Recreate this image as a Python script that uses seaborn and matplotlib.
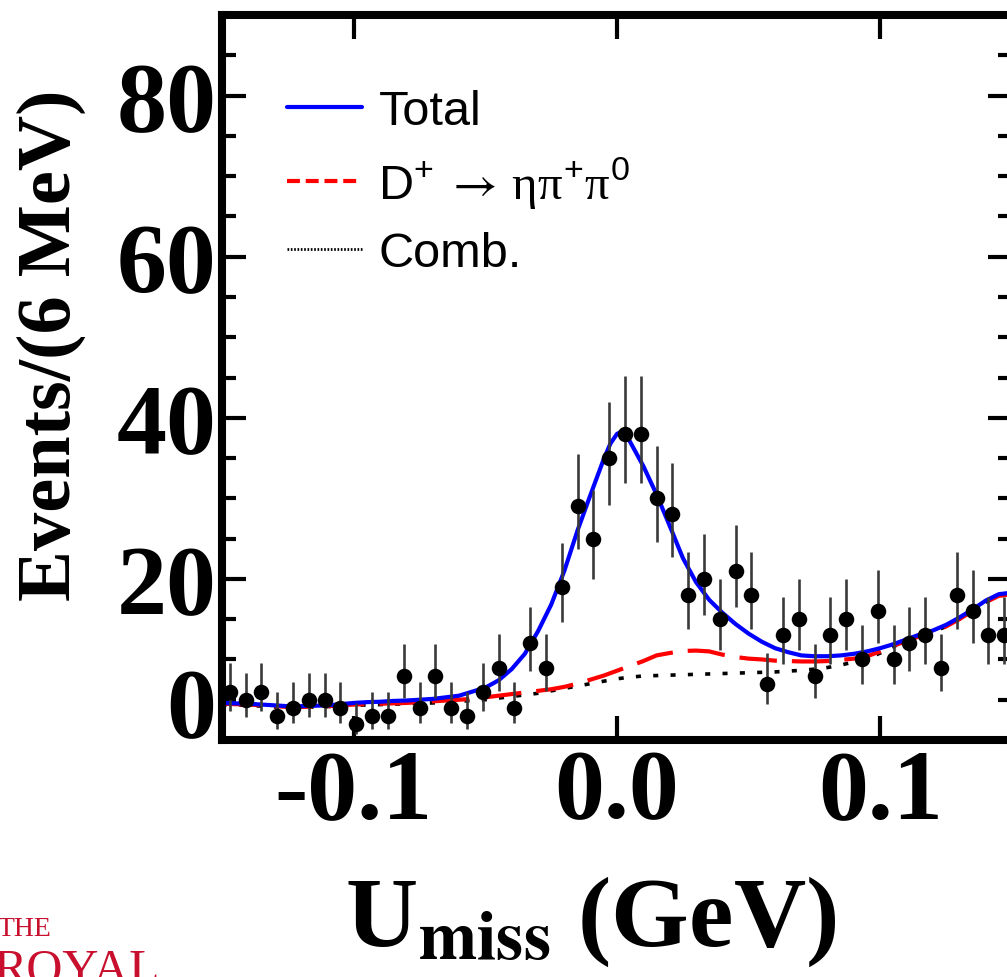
import numpy as np
import pandas as pd
import matplotlib
matplotlib.use("Agg")
import matplotlib.pyplot as plt
import seaborn as sns
from matplotlib.lines import Line2D
from matplotlib.ticker import MultipleLocator
from matplotlib.transforms import ScaledTranslation

# ---------------- data ----------------
bin_centers = [-0.147, -0.141, -0.135, -0.129, -0.123, -0.117, -0.111, -0.105, -0.099, -0.093,
               -0.087, -0.081, -0.075, -0.069, -0.063, -0.057, -0.051, -0.045, -0.039, -0.033,
               -0.027, -0.021, -0.015, -0.009, -0.003, 0.003, 0.009, 0.015, 0.021, 0.027,
               0.033, 0.039, 0.045, 0.051, 0.057, 0.063, 0.069, 0.075, 0.081, 0.087,
               0.093, 0.099, 0.105, 0.111, 0.117, 0.123, 0.129, 0.135, 0.141, 0.147]
counts = [6, 5, 6, 3, 4, 5, 5, 4, 2, 3,
          3, 8, 4, 8, 4, 3, 6, 9, 4, 12,
          9, 19, 29, 25, 35, 38, 38, 30, 28, 18,
          20, 15, 21, 18, 7, 13, 15, 8, 13, 15,
          10, 16, 10, 12, 13, 9, 18, 16, 13, 13]

curve_x = [-0.150, -0.145, -0.140, -0.135, -0.130, -0.125, -0.120, -0.115, -0.110, -0.105,
           -0.100, -0.095, -0.090, -0.085, -0.080, -0.075, -0.070, -0.065, -0.060, -0.055,
           -0.050, -0.045, -0.040, -0.035, -0.030, -0.025, -0.020, -0.015, -0.010, -0.005,
           -0.0025, 0.000, 0.0025, 0.005, 0.010, 0.015, 0.020, 0.025, 0.030, 0.035,
           0.040, 0.045, 0.050, 0.055, 0.060, 0.065, 0.070, 0.075, 0.080, 0.085,
           0.090, 0.095, 0.100, 0.105, 0.110, 0.115, 0.120, 0.125, 0.130, 0.135,
           0.140, 0.145, 0.150]
total_fit = [4.6, 4.55, 4.5, 4.4, 4.3, 4.2, 4.2, 4.25, 4.3, 4.45,
             4.6, 4.7, 4.75, 4.85, 4.9, 5.0, 5.1, 5.3, 5.5, 6.0,
             6.5, 7.4, 8.8, 10.7, 13.5, 16.8, 21.0, 26.0, 30.5, 34.9,
             36.8, 38.0, 38.4, 37.0, 34.0, 30.5, 26.6, 22.6, 19.6, 17.4,
             15.8, 14.4, 13.2, 12.2, 11.4, 10.9, 10.5, 10.4, 10.4, 10.5,
             10.7, 11.0, 11.4, 11.9, 12.5, 13.1, 13.6, 14.3, 15.2, 16.2,
             17.3, 18.1, 18.3]
peaking_bkg = [4.5, 4.45, 4.4, 4.3, 4.2, 4.1, 4.1, 4.15, 4.2, 4.3,
               4.4, 4.45, 4.5, 4.55, 4.6, 4.7, 4.8, 4.9, 5.0, 5.1,
               5.3, 5.5, 5.7, 5.9, 6.1, 6.3, 6.6, 7.0, 7.5, 8.0,
               8.3, 8.6, 8.9, 9.2, 9.8, 10.5, 10.8, 11.05, 11.1, 11.0,
               10.6, 10.3, 10.1, 10.0, 9.85, 9.8, 9.75, 9.75, 9.8, 9.95,
               10.1, 10.4, 11.0, 11.7, 12.3, 12.9, 13.4, 14.1, 15.0, 16.0,
               17.1, 17.9, 18.1]
comb_bkg = [4.4, 4.35, 4.3, 4.2, 4.1, 4.05, 4.05, 4.1, 4.15, 4.2,
            4.3, 4.35, 4.4, 4.45, 4.5, 4.55, 4.6, 4.7, 4.8, 4.9,
            5.0, 5.2, 5.4, 5.6, 5.8, 6.1, 6.4, 6.7, 7.0, 7.3,
            7.45, 7.6, 7.7, 7.8, 7.95, 8.0, 8.05, 8.1, 8.15, 8.2,
            8.25, 8.3, 8.35, 8.4, 8.45, 8.55, 8.65, 8.8, 9.0, 9.3,
            9.7, 10.1, 10.8, 11.6, 12.3, 12.9, 13.4, 14.1, 15.0, 16.0,
            17.1, 17.9, 18.1]

xtick_vals = [-0.1, 0.0, 0.1]
xtick_labels = ["-0.1", "0.0", "0.1"]
ytick_vals = [0, 20, 40, 60, 80]
ytick_labels = ["0", "20", "40", "60", "80"]
legend_labels = ["Total",
                 r"D$^{+}\;\mathsf{\rightarrow}\,\mathit{\eta\pi}^{+}\mathit{\pi}^{0}$",
                 "Comb."]

# ---------------- style ----------------
sns.set_theme(style="ticks")
plt.rcParams["font.family"] = ["Liberation Serif", "DejaVu Serif"]
plt.rcParams["mathtext.fontset"] = "custom"
plt.rcParams["mathtext.rm"] = "Liberation Sans"
plt.rcParams["mathtext.it"] = "Liberation Serif"
plt.rcParams["mathtext.sf"] = "STIXGeneral"
plt.rcParams["mathtext.bf"] = "Liberation Sans:bold"
plt.rcParams["mathtext.default"] = "regular"
plt.rcParams["axes.unicode_minus"] = False

W, H = 1007, 978
fig = plt.figure(figsize=(W / 100, H / 100), dpi=100)
ax = fig.add_axes([222 / W, (H - 741) / H, 790 / W, 725 / H])

BLUE = "#0000ff"
RED = "#ff0000"

curves = pd.DataFrame({"x": curve_x, "total": total_fit,
                       "peak": peaking_bkg, "comb": comb_bkg})

# combinatorial background (dotted)
sns.lineplot(data=curves, x="x", y="comb", ax=ax, color="black", lw=2.6,
             sort=False, estimator=None)
ax.lines[-1].set_dashes((1.4, 3.4))
# peaking background (long dashes)
sns.lineplot(data=curves, x="x", y="peak", ax=ax, color=RED, lw=3.0,
             sort=False, estimator=None)
ax.lines[-1].set_dashes((9, 3.6))
# total fit
sns.lineplot(data=curves, x="x", y="total", ax=ax, color=BLUE, lw=3.0,
             sort=False, estimator=None)

# data with asymmetric Poisson errors
n = np.array(counts, dtype=float)
up = (n + 1) * (1 - 1 / (9 * (n + 1)) + 1 / (3 * np.sqrt(n + 1))) ** 3 - n
nn = np.maximum(n, 1)
lo = np.where(n > 0, n - nn * (1 - 1 / (9 * nn) - 1 / (3 * np.sqrt(nn))) ** 3, 0)
ax.errorbar(bin_centers, counts, yerr=[lo, up], fmt="none", ecolor="#3a3a3a",
            elinewidth=1.9, capsize=0, zorder=4)
pts = pd.DataFrame({"x": bin_centers, "y": counts})
sns.scatterplot(data=pts, x="x", y="y", ax=ax, color="black", s=125,
                edgecolor="black", linewidth=0, zorder=5)

# ---------------- axes ----------------
ax.set_xlim(-0.15, 0.15)
ax.set_ylim(0, 90)
ax.set_xticks(xtick_vals)
ax.set_xticklabels(xtick_labels)
ax.set_yticks(ytick_vals)
ax.set_yticklabels(ytick_labels)
ax.yaxis.set_minor_locator(MultipleLocator(5))
ax.tick_params(which="both", direction="in", top=True, right=True)
ax.tick_params(which="major", length=17, width=3, color="black")
ax.tick_params(which="minor", length=10, width=3, color="black")
ax.tick_params(axis="x", which="minor", bottom=False, top=False)
ax.tick_params(axis="y", which="major", pad=4)
ax.tick_params(axis="x", which="major", pad=6)
for lab in ax.get_xticklabels() + ax.get_yticklabels():
    lab.set_fontfamily("Liberation Serif")
    lab.set_fontweight("bold")
    lab.set_fontsize(72)
    lab.set_color("black")

for side in ["left", "top", "bottom"]:
    ax.spines[side].set_linewidth(5.8)
    ax.spines[side].set_color("black")
ax.spines["right"].set_linewidth(1.0)
ax.spines["right"].set_color("black")

# raise the "0" label as in the reference
t0 = ax.yaxis.get_major_ticks()[0].label1
t0.set_transform(t0.get_transform() + ScaledTranslation(0, 0.38, fig.dpi_scale_trans))

ax.set_xlabel(r"U$_{\mathbf{miss}}$ (GeV)", fontsize=72, fontweight="bold",
              fontfamily="Liberation Serif", math_fontfamily="stix", color="black")
ax.xaxis.set_label_coords(0.466, -0.184)
ax.set_ylabel("Events/(6 MeV)", fontsize=55, fontweight="bold",
              fontfamily="Liberation Serif", color="black")
ax.yaxis.set_label_coords(-0.172, 0.546)

# ---------------- legend ----------------
handles = [Line2D([], [], color=BLUE, lw=3.0),
           Line2D([], [], color=RED, lw=3.0, dashes=(3.1, 1.4)),
           Line2D([], [], color="black", lw=2.0, dashes=(0.6, 0.6))]
leg = ax.legend(handles, legend_labels, loc="upper left",
                bbox_to_anchor=((287 - 222) / 790, (741 - 90) / 725),
                frameon=False, borderpad=0, borderaxespad=0,
                handlelength=1.55, handletextpad=0.33, labelspacing=0.42,
                prop={"family": "Liberation Sans", "size": 35})
for t in leg.get_texts():
    t.set_math_fontfamily("custom")
    t.set_color("black")

# ---------------- publisher mark (bottom-left) ----------------
fig.text(-2 / W, (H - 936) / H, "THE", color="#c8102e", fontsize=20,
         fontfamily="Liberation Serif", ha="left", va="baseline")
fig.text(-6 / W, (H - 984) / H, "ROYAL", color="#c8102e", fontsize=36,
         fontfamily="Liberation Serif", ha="left", va="baseline")

fig.savefig("out.png", dpi=100)
